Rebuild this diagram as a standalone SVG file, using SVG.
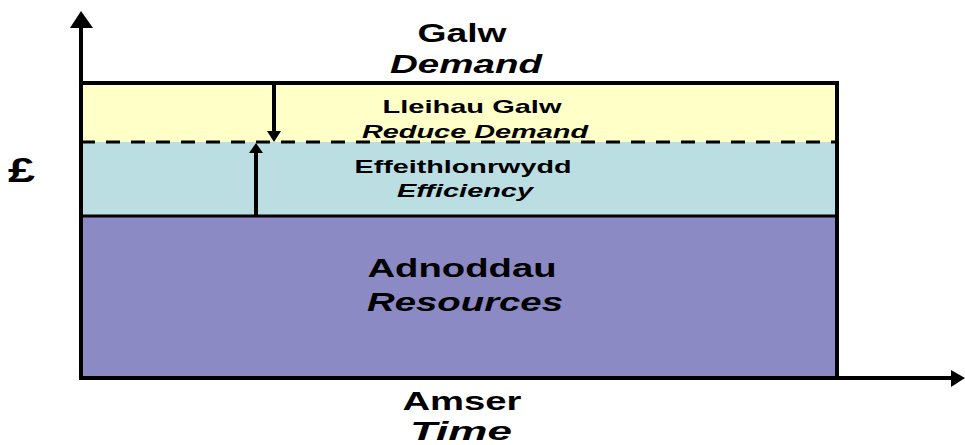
<svg xmlns="http://www.w3.org/2000/svg" width="965" height="445" viewBox="0 0 965 445">
<defs>
<style>
.t{font-family:"Liberation Sans",Arial,sans-serif;font-weight:bold;fill:#000;text-anchor:middle}
.i{font-style:italic}
.ax{stroke:#000;stroke-width:4;fill:none}
</style>
</defs>
<rect width="965" height="445" fill="#fff"/>
<g id="reduce-demand">
<rect x="81" y="83" width="756" height="59" fill="#FFFFC8"/>
</g>
<g id="efficiency">
<rect x="81" y="142" width="756" height="74" fill="#BBDEE3"/>
</g>
<g id="resources">
<rect x="81" y="216" width="756" height="162" fill="#8C8AC4"/>
</g>
<g id="frame">
<line x1="81" y1="83" x2="839" y2="83" stroke="#000" stroke-width="4"/>
<line x1="837" y1="81" x2="837" y2="380" stroke="#000" stroke-width="4"/>
<line x1="81" y1="216" x2="837" y2="216" stroke="#000" stroke-width="3"/>
<line x1="81" y1="142" x2="837" y2="142" stroke="#000" stroke-width="3" stroke-dasharray="14,11"/>
</g>
<g id="connectors">
<line class="ax" x1="81" y1="380" x2="81" y2="26"/>
<polygon points="81,11 70,28 93,28"/>
<line class="ax" x1="79" y1="378" x2="953" y2="378"/>
<polygon points="965,378 951,370 951,387"/>
<line x1="274" y1="84" x2="274" y2="133" stroke="#000" stroke-width="4"/>
<polygon points="274,142 267,131 281,131"/>
<line x1="256" y1="216" x2="256" y2="152" stroke="#000" stroke-width="4"/>
<polygon points="256,143 249,153 263,153"/>
</g>
<g id="labels">
<text class="t" x="462" y="42" font-size="26" textLength="89" lengthAdjust="spacingAndGlyphs">Galw</text>
<text class="t i" x="466" y="73" font-size="26" textLength="152" lengthAdjust="spacingAndGlyphs">Demand</text>
<text class="t" x="472" y="113" font-size="19" textLength="179" lengthAdjust="spacingAndGlyphs">Lleihau Galw</text>
<text class="t i" x="475" y="138" font-size="19" textLength="226" lengthAdjust="spacingAndGlyphs">Reduce Demand</text>
<text class="t" x="463" y="173" font-size="19" textLength="217" lengthAdjust="spacingAndGlyphs">Effeithlonrwydd</text>
<text class="t i" x="465" y="197" font-size="19" textLength="136" lengthAdjust="spacingAndGlyphs">Efficiency</text>
<text class="t" x="462" y="277" font-size="26" textLength="189" lengthAdjust="spacingAndGlyphs">Adnoddau</text>
<text class="t i" x="465" y="311" font-size="26" textLength="196" lengthAdjust="spacingAndGlyphs">Resources</text>
<text class="t" x="462" y="410" font-size="26" textLength="119" lengthAdjust="spacingAndGlyphs">Amser</text>
<text class="t i" x="461" y="440" font-size="26" textLength="102" lengthAdjust="spacingAndGlyphs">Time</text>
<text class="t" x="21.5" y="182" font-size="35" textLength="27" lengthAdjust="spacingAndGlyphs">£</text>
</g>
</svg>
